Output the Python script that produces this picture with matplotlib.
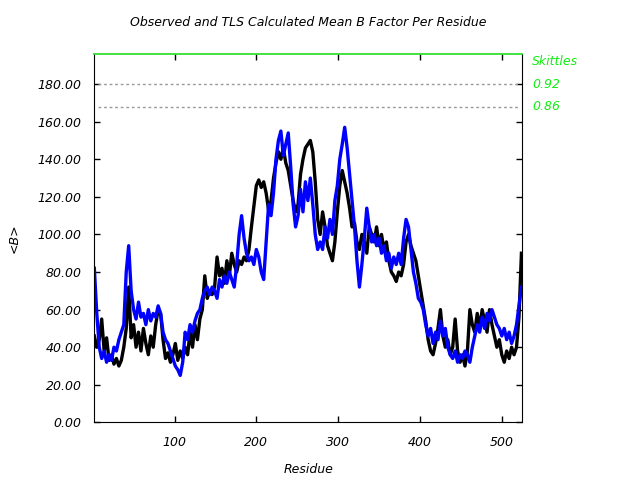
import matplotlib
matplotlib.use('Agg')
import matplotlib.pyplot as plt
import matplotlib.transforms as mtransforms
import numpy as np

observed = [46, 40, 44, 55, 38, 45, 33, 36, 31, 34, 30, 33, 40, 50, 72, 45, 52, 40, 48, 38,
            50, 42, 36, 46, 40, 52, 60, 58, 44, 34, 37, 32, 36, 42, 33, 38, 34, 40, 36, 48,
            40, 52, 44, 55, 60, 78, 66, 70, 68, 72, 88, 78, 82, 74, 86, 78, 90, 84, 80, 86,
            84, 88, 86, 92, 104, 115, 126, 129, 125, 128, 122, 113, 118, 130, 138, 144, 140, 146, 138, 134,
            126, 118, 112, 116, 132, 140, 146, 148, 150, 144, 128, 108, 100, 112, 104, 94, 90, 86, 96, 112,
            126, 134, 128, 122, 114, 104, 106, 96, 92, 100, 96, 90, 104, 100, 96, 104, 94, 100, 92, 96,
            86, 80, 78, 75, 80, 78, 84, 96, 100, 94, 90, 86, 78, 70, 62, 54, 44, 38, 36, 42,
            50, 60, 46, 40, 44, 36, 40, 55, 38, 32, 36, 30, 38, 60, 52, 48, 58, 50, 60, 54,
            48, 60, 52, 46, 40, 44, 36, 32, 38, 34, 40, 36, 40, 56, 90]
tls_calc = [82, 58, 40, 34, 38, 32, 36, 33, 40, 38, 44, 48, 52, 80, 94, 70, 60, 55, 64, 56,
            58, 52, 60, 54, 58, 56, 62, 58, 48, 44, 42, 38, 34, 30, 28, 25, 32, 48, 44, 52,
            48, 54, 58, 60, 66, 70, 72, 68, 72, 70, 66, 76, 72, 78, 74, 80, 76, 72, 84, 100,
            110, 98, 90, 86, 88, 84, 92, 88, 80, 76, 96, 116, 110, 122, 140, 150, 155, 142, 148, 154,
            136, 116, 104, 110, 124, 112, 128, 118, 130, 116, 100, 92, 96, 92, 104, 98, 108, 100, 118, 126,
            140, 148, 157, 146, 132, 118, 104, 86, 72, 84, 98, 114, 104, 96, 100, 94, 98, 90, 94, 86,
            90, 82, 88, 84, 90, 84, 98, 108, 104, 92, 80, 74, 66, 64, 60, 52, 46, 50, 42, 48,
            44, 54, 46, 50, 40, 36, 34, 38, 32, 36, 34, 38, 36, 32, 40, 46, 52, 48, 56, 50,
            58, 54, 60, 56, 52, 50, 46, 50, 44, 48, 42, 46, 52, 62, 72]
residue = 2 + 3 * np.arange(len(observed))

skittles = ['0.92', '0.86']
skittle_levels = [180, 168]

fig = plt.figure(figsize=(6.4, 4.8), dpi=100)
ax = fig.add_axes([0.147, 0.12, 0.669, 0.7675])

ax.plot(residue, observed, color='black', lw=2.4)
ax.plot(residue, tls_calc, color='#0000ff', lw=2.4)

for lev in skittle_levels:
    ax.axhline(lev, color='#999999', lw=1, ls=(0, (2, 2)), xmin=0.01, xmax=0.995)

ax.set_xlim(1.7, 525)
ax.set_ylim(0, 196)
ax.set_xticks([100, 200, 300, 400, 500])
ax.set_yticks(np.arange(0, 181, 20))
ax.set_yticklabels(['%.2f' % v for v in np.arange(0, 181, 20)])

fnt = dict(family='DejaVu Sans', style='italic', size=9)
ax.tick_params(direction='in', length=4, width=1, top=True, right=True)
ax.tick_params(axis='y', pad=9)
ax.tick_params(axis='x', pad=10)
for lab in ax.get_xticklabels() + ax.get_yticklabels():
    lab.set_fontstyle('italic')
    lab.set_fontsize(9)

ax.spines['top'].set_color('#22dd22')
ax.spines['top'].set_linewidth(1.2)

ax.set_title('Observed and TLS Calculated Mean B Factor Per Residue', pad=20, **fnt)
ax.set_xlabel('Residue', labelpad=10, **fnt)
ax.set_ylabel('<B>', labelpad=12, **fnt)

trans = mtransforms.blended_transform_factory(ax.transAxes, ax.transData)
ax.text(1.023, 192, 'Skittles', transform=trans, color='#11ee11', va='center', ha='left', **fnt)
for name, lev in zip(skittles, skittle_levels):
    ax.text(1.023, lev, name, transform=trans, color='#11ee11', va='center', ha='left', **fnt)

fig.savefig('out.png', dpi=100)
